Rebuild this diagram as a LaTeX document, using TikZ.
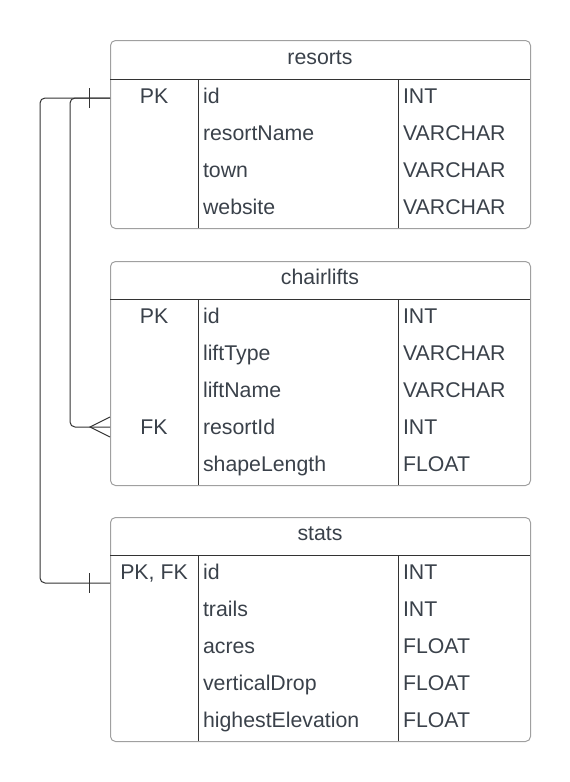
\documentclass[tikz,border=0pt]{standalone}
\usepackage{fontspec}
\setmainfont{Liberation Sans}
\usetikzlibrary{positioning}
\definecolor{erink}{HTML}{3A414A}
\definecolor{erline}{HTML}{333333}
\definecolor{erframe}{HTML}{A0A0A0}
\tikzset{
  tbl/.style={draw=erframe,rounded corners=5pt,minimum width=420pt,line width=1pt,
    inner sep=0pt,anchor=north west},
  hd/.style={font=\fontsize{21.3}{25}\selectfont,text=erink,anchor=base},
  key/.style={hd},
  fld/.style={hd,anchor=base west},
  sep/.style={draw=erline,line width=0.8pt},
  rel/.style={draw=erline,line width=1pt,rounded corners=5pt},
  endmark/.style={draw=erline,line width=1pt,sharp corners},
}

\begin{document}
\begin{tikzpicture}[x=1pt,y=-1pt]
\useasboundingbox (0,0) rectangle (570,782);
% resorts
\node[tbl,minimum height=188pt] (resorts) at (110,40) {};
\node[hd] (resorts-t) at (320,64.5) {resorts};
\draw[sep] (110,79) -- (530,79);
\draw[sep] (198,79) -- (198,228); \draw[sep] (398,79) -- (398,228);
\foreach \n/\k/\t [count=\i] in {id/PK/INT,resortName//VARCHAR,town//VARCHAR,website//VARCHAR}{
  \node[key] (resorts-k\i) at (154,79+37*\i-12.5) {\k};
  \node[fld] (resorts-n\i) at (199.5,79+37*\i-12.5) {\n};
  \node[fld] (resorts-y\i) at (399.5,79+37*\i-12.5) {\t};
}
% chairlifts
\node[tbl,minimum height=224pt] (chairlifts) at (110,261) {};
\node[hd] (chairlifts-t) at (320,284.5) {chairlifts};
\draw[sep] (110,299) -- (530,299);
\draw[sep] (198,299) -- (198,485); \draw[sep] (398,299) -- (398,485);
\foreach \n/\k/\t [count=\i] in {id/PK/INT,liftType//VARCHAR,liftName//VARCHAR,resortId/FK/INT,shapeLength//FLOAT}{
  \node[key] (chairlifts-k\i) at (154,299+37*\i-12.5) {\k};
  \node[fld] (chairlifts-n\i) at (199.5,299+37*\i-12.5) {\n};
  \node[fld] (chairlifts-y\i) at (399.5,299+37*\i-12.5) {\t};
}
% stats
\node[tbl,minimum height=224pt] (stats) at (110,517) {};
\node[hd] (stats-t) at (320,540.5) {stats};
\draw[sep] (110,555) -- (530,555);
\draw[sep] (198,555) -- (198,741); \draw[sep] (398,555) -- (398,741);
\foreach \n/\k/\t [count=\i] in {id/{PK, FK}/INT,trails//INT,acres//FLOAT,verticalDrop//FLOAT,highestElevation//FLOAT}{
  \node[key] (stats-k\i) at (154,555+37*\i-12.5) {\k};
  \node[fld] (stats-n\i) at (199.5,555+37*\i-12.5) {\n};
  \node[fld] (stats-y\i) at (399.5,555+37*\i-12.5) {\t};
}
% relations
\coordinate (rPK) at (110,98);
\coordinate (cFK) at (110,427);
\coordinate (sPK) at (110,583);
\draw[rel] (rPK) -- ++(-40,0) |- (cFK);
\draw[rel] (rPK) -- ++(-70,0) |- (sPK);
\draw[endmark] ([shift={(-21,-10)}]rPK) -- ([shift={(-21,10)}]rPK);
\draw[endmark] ([shift={(-21,-10)}]sPK) -- ([shift={(-21,10)}]sPK);
\draw[endmark] ([shift={(0,-10)}]cFK) -- ([shift={(-20,0)}]cFK) -- ([shift={(0,10)}]cFK);
\end{tikzpicture}
\end{document}
